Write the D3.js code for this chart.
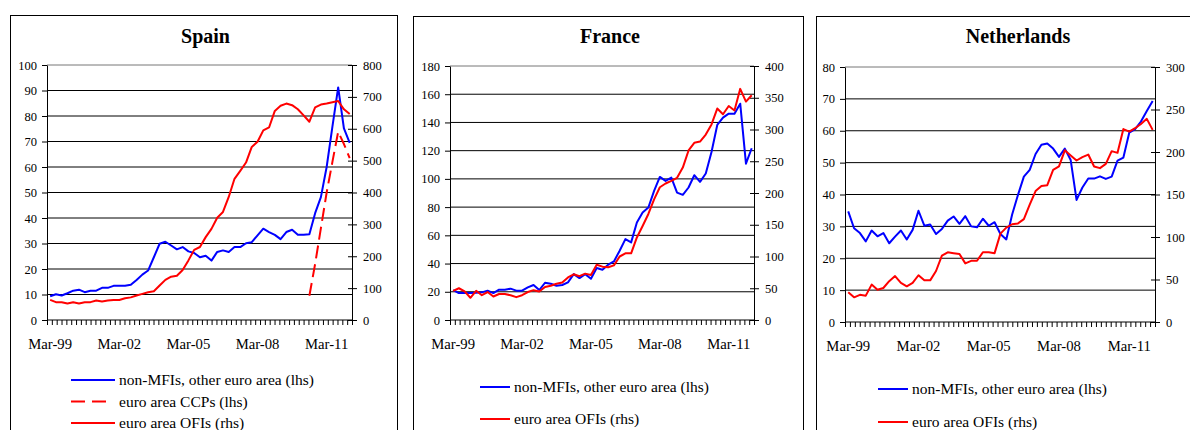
<!DOCTYPE html>
<html>
<head>
<meta charset="utf-8">
<script src="https://cdn.jsdelivr.net/npm/d3@7"></script>
<style>
  body { margin: 0; background: #fff; }
  svg { display: block; font-family: "Liberation Serif", "Times New Roman", serif; }
  .domain { stroke: #000; }
</style>
</head>
<body>
<svg id="chart" width="1190" height="430"></svg>
<script>
// quarterly categories Mar-99 .. Mar-12
const years = d3.range(1999, 2013);
const months = ["Mar", "Jun", "Sep", "Dec"];
const quarters = years.flatMap(y => months.map(m => m + "-" + String(y).slice(2))).slice(0, 53);
const xTickLabels = ["Mar-99", "Mar-02", "Mar-05", "Mar-08", "Mar-11"];

// Spain
const spainNonMfi = [9.3, 10.1, 9.6, 10.5, 11.5, 11.9, 10.9, 11.5, 11.5, 12.6, 12.6, 13.4, 13.4, 13.4, 13.8, 15.7,
  17.8, 19.4, 24.6, 29.9, 30.7, 29.2, 27.7, 28.6, 26.9, 26.3, 24.6, 25.2, 23.3, 26.7, 27.3, 26.7,
  28.6, 28.6, 30.1, 30.5, 33.2, 35.8, 34.5, 33.4, 31.7, 34.5, 35.4, 33.4, 33.4, 33.6, 41.9, 48.2,
  60, 75.8, 91.2, 75.1, 69.5];
const spainCcp = [null, null, null, null, null, null, null, null, null, null, null, null, null, null, null, null,
  null, null, null, null, null, null, null, null, null, null, null, null, null, null, null, null,
  null, null, null, null, null, null, null, null, null, null, null, null, null, 9.5, 22, 36,
  50, 62, 73.8, 69, 63.5];
const spainOfi = [63, 56, 56, 52, 56, 52, 56, 56, 61, 58, 61, 63, 63, 68, 71, 77,
  82, 87, 90, 108, 126, 136, 139, 157, 187, 220, 229, 260, 286, 321, 339, 386,
  443, 468, 494, 543, 559, 595, 604, 656, 672, 679, 674, 661, 642, 622, 667, 676,
  679, 683, 687, 661, 646];

// France
const franceNonMfi = [21.2, 19.1, 19.1, 19.1, 19.3, 19.6, 20.8, 19.1, 21.5, 21.5, 22.2, 20.8, 20.8, 23.1, 24.8, 21.2,
  26.4, 25.7, 24.3, 24.8, 26.7, 32.5, 29.7, 32.5, 29.2, 36.8, 35.6, 39.2, 41.5, 49.1, 57.3, 55,
  69.1, 76.2, 79.7, 91.5, 101.4, 98.6, 100.9, 90.3, 88.7, 93.9, 102.6, 97.9, 103.8, 119.1, 138.2, 143.4,
  146.2, 146.2, 153.3, 110.8, 121.7];
const franceOfi = [46, 50, 45, 35, 46, 39, 44, 37, 41, 41, 39, 36, 39, 44, 47, 45,
  52, 54, 57, 59, 67, 72, 69, 73, 71, 87, 84, 83, 86, 100, 105, 105,
  130, 148, 167, 190, 209, 215, 219, 224, 240, 267, 279, 281, 292, 308, 333, 324,
  337, 330, 364, 344, 354];

// Netherlands
const nlNonMfi = [34.7, 29.4, 27.9, 25.3, 28.7, 26.9, 27.9, 24.7, 26.8, 28.7, 25.9, 28.9, 34.9, 30.2, 30.6, 27.6,
  29.2, 31.8, 33.1, 30.8, 33.2, 30, 29.7, 32.4, 30.2, 31.3, 27.6, 25.9, 33.7, 39.9, 45.6, 47.7,
  52.7, 55.6, 56, 54.4, 51.8, 54.4, 50.8, 38.3, 42.2, 45, 45, 45.7, 44.9, 45.6, 50.6, 51.6,
  59.4, 60.5, 62.9, 66.2, 69.3];
const nlOfi = [35, 29, 32, 31, 44, 38, 40, 48, 54, 46, 42, 46, 55, 49, 49, 60,
  78, 82, 81, 80, 69, 72, 72, 82, 82, 81, 104, 111, 115, 116, 121, 138,
  154, 160, 161, 179, 183, 202, 196, 190, 194, 197, 183, 181, 186, 201, 199, 227,
  224, 228, 233, 239, 226];

const seriesNames = {
  nonMfi: "non-MFIs, other euro area (lhs)",
  ccp: "euro area CCPs (lhs)",
  ofi: "euro area OFIs (rhs)"
};

const panels = [
  {
    title: "Spain", box: [10, 15, 387], plot: { left: 47, right: 352, top: 65, bottom: 320 },
    yLeft: [0, 100, 10], yRight: [0, 800, 100],
    series: [
      { key: "nonMfi", values: spainNonMfi, color: "#0000ff", axis: "left" },
      { key: "ccp", values: spainCcp, color: "#ff0000", axis: "left", dash: "13,6" },
      { key: "ofi", values: spainOfi, color: "#ff0000", axis: "right" }
    ],
    legend: { x: 71, y: 380, step: 21.5 }
  },
  {
    title: "France", box: [413, 16, 390], plot: { left: 450, right: 754, top: 66, bottom: 320 },
    yLeft: [0, 180, 20], yRight: [0, 400, 50],
    series: [
      { key: "nonMfi", values: franceNonMfi, color: "#0000ff", axis: "left" },
      { key: "ofi", values: franceOfi, color: "#ff0000", axis: "right" }
    ],
    legend: { x: 480, y: 387, step: 32 }
  },
  {
    title: "Netherlands", box: [816, 16, 400], plot: { left: 845, right: 1155, top: 67, bottom: 322 },
    yLeft: [0, 80, 10], yRight: [0, 300, 50],
    series: [
      { key: "nonMfi", values: nlNonMfi, color: "#0000ff", axis: "left" },
      { key: "ofi", values: nlOfi, color: "#ff0000", axis: "right" }
    ],
    legend: { x: 878, y: 389, step: 33 }
  }
];

const svg = d3.select("#chart");
const xDomain = [-0.55, 52.4];

function drawPanel(p) {
  const g = svg.append("g");
  const { left, right, top, bottom } = p.plot;

  g.append("rect")
    .attr("x", p.box[0] + 0.5).attr("y", p.box[1] + 0.5)
    .attr("width", p.box[2]).attr("height", 500)
    .attr("fill", "none").attr("stroke", "#000").attr("stroke-width", 1);

  g.append("text")
    .attr("x", (p.box[0] + p.box[0] + p.box[2]) / 2 + 2)
    .attr("y", 43)
    .attr("text-anchor", "middle")
    .attr("font-size", 20).attr("font-weight", "bold")
    .text(p.title);

  const x = d3.scaleLinear().domain(xDomain).range([left, right]);
  const yL = d3.scaleLinear().domain([p.yLeft[0], p.yLeft[1]]).range([bottom, top]);
  const yR = d3.scaleLinear().domain([p.yRight[0], p.yRight[1]]).range([bottom, top]);
  const leftTicks = d3.range(p.yLeft[0], p.yLeft[1] + 1e-9, p.yLeft[2]);
  const rightTicks = d3.range(p.yRight[0], p.yRight[1] + 1e-9, p.yRight[2]);

  // gridlines
  g.append("g").selectAll("line")
    .data(leftTicks.filter(d => d > 0))
    .join("line")
    .attr("x1", left).attr("x2", right)
    .attr("y1", d => yL(d)).attr("y2", d => yL(d))
    .attr("stroke", (d, i, n) => i === n.length - 1 ? "#777" : "#000")
    .attr("stroke-width", 1);

  // left axis
  const axL = g.append("g")
    .attr("transform", `translate(${left},0)`)
    .call(d3.axisLeft(yL).tickValues(leftTicks).tickSize(5).tickSizeOuter(0).tickPadding(5));
  axL.selectAll("text").attr("font-size", 12.5).attr("font-family", "Liberation Serif").attr("fill", "#000");

  // right axis with crossing ticks
  const axR = g.append("g")
    .attr("transform", `translate(${right},0)`)
    .call(d3.axisRight(yR).tickValues(rightTicks).tickSize(5).tickSizeOuter(0).tickPadding(6));
  axR.selectAll(".tick line").attr("x1", -4);
  axR.selectAll("text").attr("font-size", 12.5).attr("font-family", "Liberation Serif").attr("fill", "#000");

  // bottom axis: minor ticks
  const minorTicks = d3.range(64).map(k => xDomain[0] + k * (xDomain[1] - xDomain[0]) / 63);
  const axB = g.append("g")
    .attr("transform", `translate(0,${bottom})`)
    .call(d3.axisBottom(x).tickValues(minorTicks).tickSize(5).tickSizeOuter(0).tickFormat(""));
  axB.select(".domain").attr("d", `M${left},0H${right}`);

  // bottom axis labels
  g.append("g").selectAll("text")
    .data(xTickLabels)
    .join("text")
    .attr("x", d => x(quarters.indexOf(d)))
    .attr("y", bottom + 29)
    .attr("text-anchor", "middle")
    .attr("font-size", 14.7)
    .text(d => d);

  // series
  p.series.forEach(s => {
    const y = s.axis === "left" ? yL : yR;
    const line = d3.line()
      .defined(d => d != null)
      .x((d, i) => x(i))
      .y(d => y(d));
    g.append("path")
      .datum(s.values)
      .attr("d", line)
      .attr("fill", "none")
      .attr("stroke", s.color)
      .attr("stroke-width", 2)
      .attr("stroke-linejoin", "round")
      .attr("stroke-dasharray", s.dash || null);
  });

  // legend
  const lg = g.append("g");
  p.series.forEach((s, i) => {
    const ly = p.legend.y + i * p.legend.step;
    const len = s.key === "nonMfi" || p.title !== "Spain" ? (p.title === "Spain" ? 44 : 30) : (s.dash ? 39 : 44);
    lg.append("line")
      .attr("x1", p.legend.x).attr("x2", p.legend.x + len)
      .attr("y1", ly).attr("y2", ly)
      .attr("stroke", s.color).attr("stroke-width", 2)
      .attr("stroke-dasharray", s.dash ? "14,7" : null);
    lg.append("text")
      .attr("x", p.legend.x + (p.title === "Spain" ? 48 : 34))
      .attr("y", ly + 5)
      .attr("font-size", 15.5)
      .text(seriesNames[s.key]);
  });
}

panels.forEach(drawPanel);
</script>
</body>
</html>
